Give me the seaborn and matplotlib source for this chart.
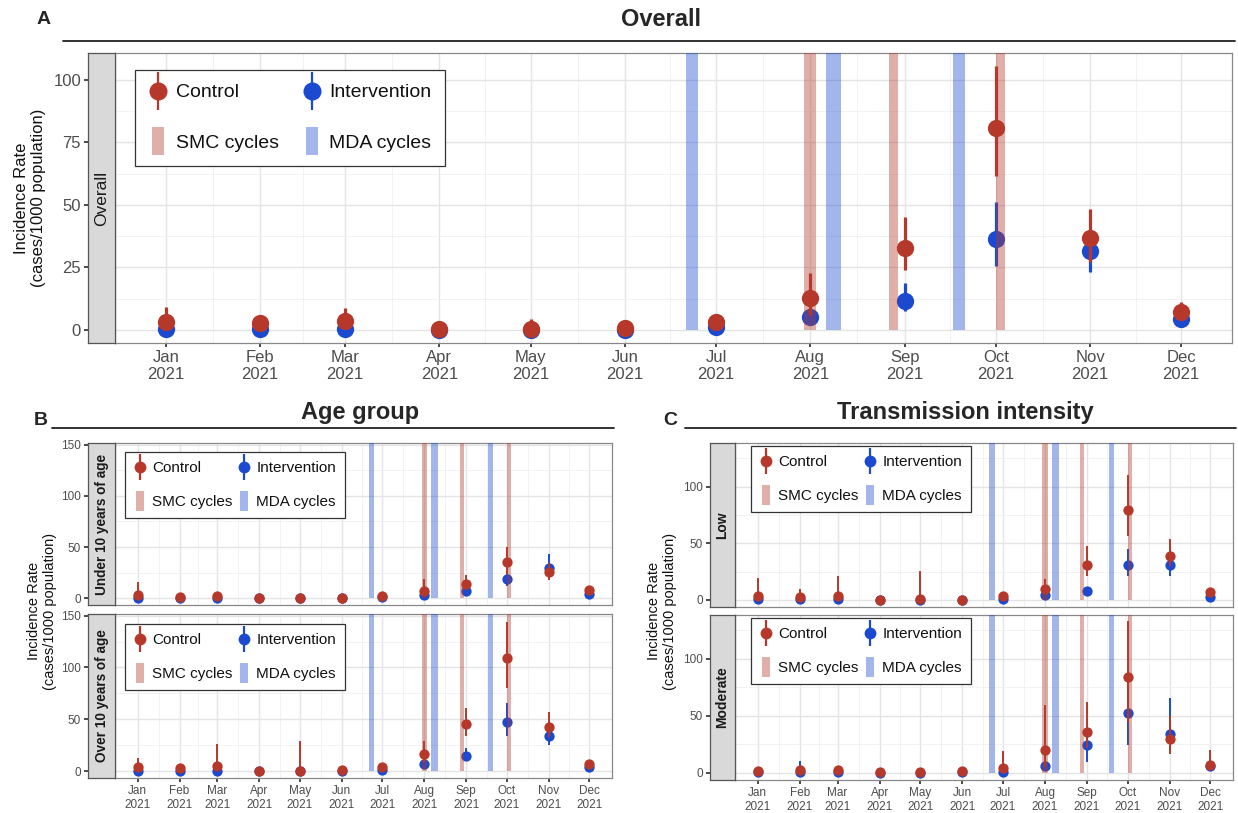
import numpy as np
import pandas as pd
import seaborn as sns
import matplotlib.pyplot as plt
import matplotlib.dates as mdates
from matplotlib.lines import Line2D
from matplotlib.legend_handler import HandlerTuple
from matplotlib.ticker import FixedLocator

W, H = 1238, 813
RED = '#B5382A'
BLUE = '#1B4AD0'

months = pd.date_range('2021-01-01', periods=12, freq='MS')
smc_start = ['2021-07-30', '2021-08-27', '2021-10-01']
smc_end = ['2021-08-03', '2021-08-30', '2021-10-04']
mda_start = ['2021-06-21', '2021-08-06', '2021-09-17']
mda_end = ['2021-06-25', '2021-08-11', '2021-09-21']

# panel A - overall
a_ctrl = [3.3, 2.6, 3.7, 0.2, 0.4, 0.9, 3.3, 12.7, 32.9, 80.9, 36.7, 7.3]
a_ctrl_lo = [0.5, 0.5, 0.8, 0, 0, 0, 1.5, 6, 24, 61.7, 27, 4]
a_ctrl_hi = [9.2, 5.5, 8.9, 2, 4.2, 3, 5.5, 22.9, 45.3, 105.6, 48.3, 11]
a_int = [0.4, 0.4, 0.4, 0, 0, 0, 1.3, 5.3, 11.6, 36.3, 31.6, 4.4]
a_int_lo = [0, 0, 0, 0, 0, 0, 0.3, 3, 7.6, 25.7, 23, 2.5]
a_int_hi = [2, 2, 2, 1, 1, 1, 3, 8, 18.7, 51.1, 38, 7]

# panel B - under 10 years
u10_ctrl = [2.9, 1.6, 2.2, 0, 0, 0.8, 2.2, 7, 14.3, 35.4, 26.1, 8.3]
u10_ctrl_lo = [0.3, 0.3, 0.3, 0, 0, 0, 0.5, 2.5, 8, 24, 18, 4]
u10_ctrl_hi = [15.6, 5, 6, 1.5, 1.5, 3, 5, 18.8, 22.9, 50, 34, 12]
u10_int = [0.5, 0.5, 0.3, 0, 0, 0, 1, 2.9, 7, 18.8, 29.3, 3.8]
u10_int_lo = [0, 0, 0, 0, 0, 0, 0, 1, 4, 12, 20, 2]
u10_int_hi = [2, 2, 2, 1, 1, 1, 2, 6, 11, 26, 43.6, 6]

# panel B - over 10 years
o10_ctrl = [4.2, 3.5, 4.8, 0.3, 0.6, 1, 3.9, 16.7, 45.3, 109.3, 42.8, 7.1]
o10_ctrl_lo = [0.5, 0.5, 0.5, 0, 0, 0, 1, 9, 33.8, 80, 33, 4]
o10_ctrl_hi = [13.2, 7, 26.7, 2, 29, 4, 7, 28.9, 61.4, 144, 57.2, 11]
o10_int = [0.5, 0.3, 0.3, 0, 0, 0, 1.3, 6.8, 14.8, 47, 33.8, 4.5]
o10_int_lo = [0, 0, 0, 0, 0, 0, 0.3, 3.5, 10, 34, 25, 2.5]
o10_int_hi = [2, 2, 2, 1, 1, 1, 3, 10, 22.5, 65.3, 40, 7]

# panel C - low transmission
low_ctrl = [3.8, 2.9, 3.8, 0.2, 0.5, 0.3, 3.2, 9.7, 31.2, 79.4, 39.1, 6.8]
low_ctrl_lo = [0.5, 0.5, 0.5, 0, 0, 0, 1, 5, 20.9, 56.8, 30, 4]
low_ctrl_hi = [19.4, 9.7, 21.2, 2, 25.9, 3, 6, 18.5, 47.4, 110.3, 53.8, 10]
low_int = [0.5, 0.5, 0.5, 0, 0, 0, 1.2, 4.7, 7.6, 30.9, 30.9, 2.9]
low_int_lo = [0, 0, 0, 0, 0, 0, 0.2, 2.5, 5, 21.5, 21.5, 1.5]
low_int_hi = [2, 2, 2, 1, 1, 1, 3, 7, 10.5, 45, 38, 5]

# panel C - moderate transmission
mod_ctrl = [1.5, 2.1, 2.1, 0.9, 0.3, 1.5, 3.8, 19.7, 36.2, 84.4, 30, 6.8]
mod_ctrl_lo = [0.2, 0.3, 0.3, 0, 0, 0.2, 0.8, 5, 22, 45, 16.8, 2.5]
mod_ctrl_hi = [4, 5, 5, 3, 2, 4, 19.1, 59.4, 62.6, 133, 50, 20]
mod_int = [0.3, 0.5, 0.3, 0, 0, 0.3, 0.9, 5.9, 24.1, 52.6, 33.8, 6]
mod_int_lo = [0, 0, 0, 0, 0, 0, 0, 2.5, 9.7, 24.4, 20, 3]
mod_int_hi = [2, 10.3, 2, 1, 1, 2, 3, 10, 36, 75, 65.3, 10]


def make_df(ctrl, ctrl_lo, ctrl_hi, itv, itv_lo, itv_hi):
    x = mdates.date2num(months)
    d1 = pd.DataFrame({'date': x, 'rate': itv, 'lo': itv_lo, 'hi': itv_hi, 'arm': 'Intervention'})
    d2 = pd.DataFrame({'date': x, 'rate': ctrl, 'lo': ctrl_lo, 'hi': ctrl_hi, 'arm': 'Control'})
    return pd.concat([d1, d2], ignore_index=True)


sns.set_theme(style='whitegrid')
plt.rcParams['font.family'] = ['Liberation Sans', 'DejaVu Sans']

fig = plt.figure(figsize=(W / 100, H / 100), dpi=100)


def rect(l, t, r, b):
    return [l / W, 1 - b / H, (r - l) / W, (b - t) / H]


def legend_for(ax, big, anchor):
    if big:
        ms, lms, rms, fs, lsp, csp, hl, bp = 13, 27, 19.5, 14, 1.7, 1.2, 1.0, 0.7
    else:
        ms, lms, rms, fs, lsp, csp, hl, bp = 8.5, 19, 14, 11, 1.3, 0.35, 0.8, 0.6
    bar = [(-0.23, -0.5), (0.23, -0.5), (0.23, 0.5), (-0.23, 0.5)]
    def pt(c):
        return (Line2D([], [], marker='|', ms=lms, mew=1.6, color=c, ls='none'),
                Line2D([], [], marker='o', ms=ms, color=c, mew=0, ls='none'))
    handles = [pt(RED),
               Line2D([], [], marker=bar, ms=rms, color=RED, alpha=0.4, mew=0, ls='none'),
               pt(BLUE),
               Line2D([], [], marker=bar, ms=rms, color=BLUE, alpha=0.4, mew=0, ls='none')]
    labels = ['Control', 'SMC cycles', 'Intervention', 'MDA cycles']
    leg = ax.legend(handles, labels, ncol=2, loc='upper left', bbox_to_anchor=anchor,
                    borderaxespad=0, fontsize=fs, labelspacing=lsp, columnspacing=csp,
                    handlelength=hl, handletextpad=0.4, borderpad=bp,
                    frameon=True, fancybox=False, framealpha=1, edgecolor='#333333',
                    handler_map={tuple: HandlerTuple(ndivide=1)})
    leg.get_frame().set_linewidth(0.9)
    leg.set_zorder(10)
    for t in leg.get_texts():
        t.set_color('#111111')


def facet(box, strip_w, strip_label, strip_kw, df, ylim, yticks, yminor, big, anchor, show_x):
    l, t, r, b = box
    ax = fig.add_axes(rect(l, t, r, b))
    sax = fig.add_axes(rect(l - strip_w, t, l, b))

    pt_size = 155 if big else 55
    lw = 2.3 if big else 1.4
    for arm, color, z in [('Intervention', BLUE, 3), ('Control', RED, 5)]:
        sub = df[df['arm'] == arm]
        ax.vlines(sub['date'], sub['lo'], sub['hi'], color=color, lw=lw, zorder=z - 1)
        sns.scatterplot(data=sub, x='date', y='rate', ax=ax, color=color, s=pt_size,
                        linewidth=0, zorder=z, legend=False)

    top = ylim[1] + 50
    for s0, s1, c in [(smc_start, smc_end, RED), (mda_start, mda_end, BLUE)]:
        x0 = mdates.date2num(pd.to_datetime(s0))
        x1 = mdates.date2num(pd.to_datetime(s1))
        ax.bar(x0, top, width=x1 - x0, bottom=0, align='edge', color=c, alpha=0.4,
               linewidth=0, zorder=6)

    xnum = mdates.date2num(months)
    ax.set_xlim(xnum[0] - 16.7, xnum[-1] + 16.7)
    ax.set_ylim(*ylim)
    ax.set_xlabel('')
    ax.set_ylabel('')
    ax.xaxis.set_major_locator(FixedLocator(xnum))
    ax.xaxis.set_minor_locator(FixedLocator((xnum[:-1] + xnum[1:]) / 2))
    ax.xaxis.set_major_formatter(mdates.DateFormatter('%b\n%Y'))
    ax.set_yticks(yticks)
    ax.yaxis.set_minor_locator(FixedLocator(yminor))
    ax.set_axisbelow(True)
    ax.grid(which='major', color='#E4E4E4', lw=1.0)
    ax.grid(which='minor', color='#F0F0F0', lw=0.6)
    ax.tick_params(axis='y', which='both', left=False, labelleft=False)
    ax.tick_params(axis='x', which='minor', length=0)
    if show_x:
        ax.tick_params(axis='x', which='major', bottom=True, length=3, color='#333333',
                       labelsize=12 if big else 8.5, labelcolor='#4D4D4D', pad=2)
    else:
        ax.tick_params(axis='x', which='major', bottom=False, labelbottom=False)
    for sp in ax.spines.values():
        sp.set_color('#888888')
        sp.set_linewidth(0.9)

    sax.set_facecolor('#D9D9D9')
    sax.grid(False)
    sax.set_xticks([])
    sax.set_ylim(*ylim)
    sax.set_yticks(yticks)
    sax.tick_params(axis='y', left=True, length=3, color='#333333',
                    labelsize=12 if big else 8.5, labelcolor='#4D4D4D', pad=2)
    for sp in sax.spines.values():
        sp.set_color('#555555')
        sp.set_linewidth(0.9)
    sax.text(0.5, 0.5, strip_label, rotation=90, ha='center', va='center',
             transform=sax.transAxes, color='#1A1A1A', **strip_kw)

    legend_for(ax, big, anchor)
    return ax


# panel A
facet((115, 53, 1232, 343), 27, 'Overall', dict(fontsize=12.5),
      make_df(a_ctrl, a_ctrl_lo, a_ctrl_hi, a_int, a_int_lo, a_int_hi),
      (-5.3, 110.8), [0, 25, 50, 75, 100], [12.5, 37.5, 62.5, 87.5], True, (0.018, 0.941), True)

# panel B
bkw = dict(fontsize=9.8, fontweight='bold')
facet((115, 443, 612, 605), 27, 'Under 10 years of age', bkw,
      make_df(u10_ctrl, u10_ctrl_lo, u10_ctrl_hi, u10_int, u10_int_lo, u10_int_hi),
      (-6.5, 151.5), [0, 50, 100, 150], [25, 75, 125], False, (0.02, 0.944), False)
facet((115, 614, 612, 778), 27, 'Over 10 years of age', bkw,
      make_df(o10_ctrl, o10_ctrl_lo, o10_ctrl_hi, o10_int, o10_int_lo, o10_int_hi),
      (-6.5, 151.5), [0, 50, 100, 150], [25, 75, 125], False, (0.02, 0.939), True)

# panel C
ckw = dict(fontsize=10, fontweight='bold')
facet((735, 443, 1233, 607), 25, 'Low', ckw,
      make_df(low_ctrl, low_ctrl_lo, low_ctrl_hi, low_int, low_int_lo, low_int_hi),
      (-6.3, 138.6), [0, 50, 100], [25, 75, 125], False, (0.032, 0.98), False)
facet((735, 615, 1233, 780), 25, 'Moderate', ckw,
      make_df(mod_ctrl, mod_ctrl_lo, mod_ctrl_hi, mod_int, mod_int_lo, mod_int_hi),
      (-6.3, 138.6), [0, 50, 100], [25, 75, 125], False, (0.032, 0.98), True)

# titles, labels and rules
def ftext(x, y, s, **kw):
    fig.text(x / W, 1 - y / H, s, **kw)

def rule(x0, x1, y):
    fig.add_artist(Line2D([x0 / W, x1 / W], [1 - y / H, 1 - y / H], color='#222222', lw=1.3))

ftext(44, 20, 'A', fontsize=14, fontweight='bold', ha='center', va='center')
ftext(661, 20, 'Overall', fontsize=17, fontweight='bold', ha='center', va='center')
rule(63, 1235, 41)
ftext(41, 420, 'B', fontsize=14, fontweight='bold', ha='center', va='center')
ftext(360, 412, 'Age group', fontsize=17, fontweight='bold', ha='center', va='center')
rule(52, 614, 428)
ftext(670, 420, 'C', fontsize=14, fontweight='bold', ha='center', va='center')
ftext(965, 412, 'Transmission intensity', fontsize=17, fontweight='bold', ha='center', va='center')
rule(685, 1236, 428)

ylab = 'Incidence Rate\n(cases/1000 population)'
ftext(30, 198, ylab, fontsize=12, rotation=90, ha='center', va='center', color='#111111')
ftext(42, 611, ylab, fontsize=10.5, rotation=90, ha='center', va='center', color='#111111')
ftext(662, 611, ylab, fontsize=10.5, rotation=90, ha='center', va='center', color='#111111')

fig.savefig('out.png', dpi=100, facecolor='white')
